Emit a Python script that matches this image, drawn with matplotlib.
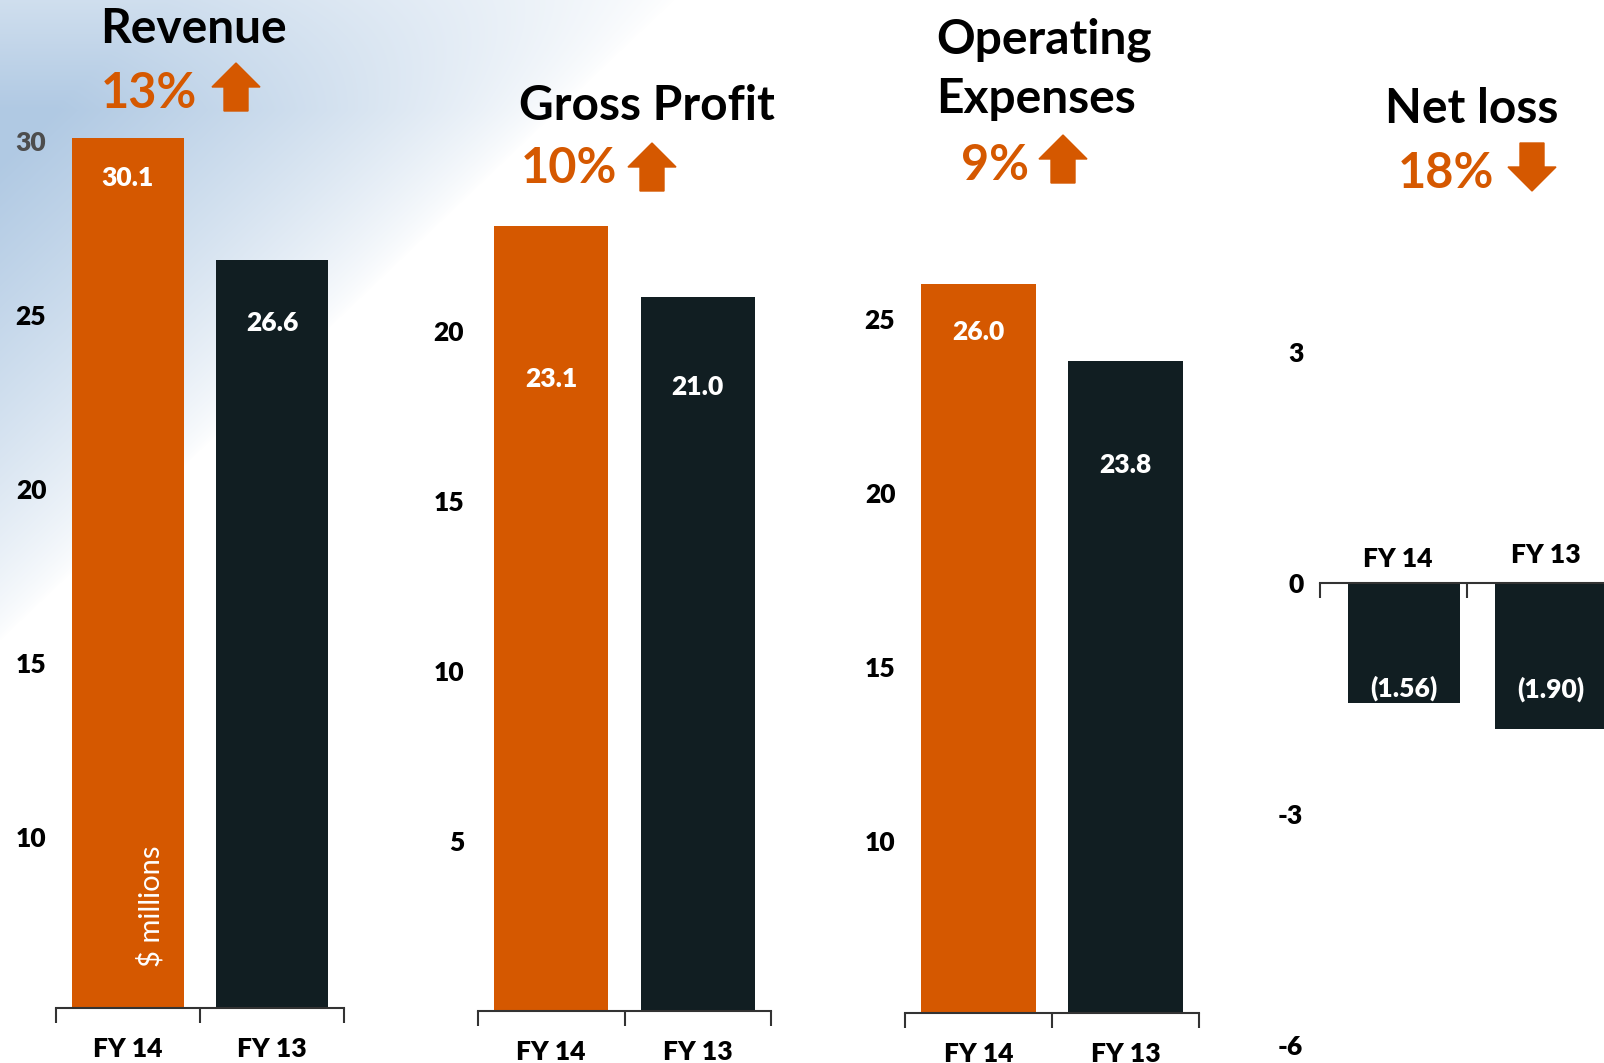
import numpy as np
import matplotlib
matplotlib.use('Agg')
import matplotlib.pyplot as plt
from matplotlib.patches import Polygon

plt.rcParams['font.family'] = ['Lato', 'DejaVu Sans']

# data
years = ['FY 14', 'FY 13']
revenue = [30.1, 26.6]
gross_profit = [23.1, 21.0]
op_expenses = [26.0, 23.8]
net_loss = [-1.56, -1.90]

rev_ticks = [10, 15, 20, 25, 30]
gp_ticks = [5, 10, 15, 20]
opex_ticks = [10, 15, 20, 25]
nl_ticks = [-6, -3, 0, 3]

titles = [['Revenue'], ['Gross Profit'], ['Operating', 'Expenses'], ['Net loss']]
changes = ['13%', '10%', '9%', '18%']
directions = ['up', 'up', 'up', 'down']

ORANGE = '#d55800'
DARK = '#111e22'
AXCOL = '#333333'
LBL_W = 'heavy'

W, H = 1604, 1063
fig = plt.figure(figsize=(W / 100, H / 100), dpi=100)


def fx(x):
    return x / W


def fy(y):
    return 1 - y / H


# soft sky background in the upper left
bg = fig.add_axes([0, 0, 1, 1], zorder=-5)
yy, xx = np.mgrid[0:H, 0:W]
d = xx * 0.95 + yy
wgt = np.clip((640 - d) / 480, 0, 1) ** 0.75
wgt *= 1 - 0.4 * np.clip((110 - yy) / 110, 0, 1)
sky = np.array([176, 201, 227]) / 255
white = np.array([1.0, 1.0, 1.0])
img = white[None, None, :] * (1 - wgt[..., None]) + sky[None, None, :] * wgt[..., None]
bg.imshow(img, aspect='auto', extent=[0, 1, 0, 1])
bg.axis('off')

# panel layout in pixels: left, right, baseline, top, value at baseline, px per unit
panels = [
    dict(vals=revenue, ticks=rev_ticks, left=56, right=344, base=1008, top=60, v0=5.1, ppu=34.8,
         pad=7, offs=[-40, -63], cols=[ORANGE, DARK]),
    dict(vals=gross_profit, ticks=gp_ticks, left=478, right=771, base=1011, top=60, v0=0, ppu=34,
         pad=10, offs=[-153, -90], cols=[ORANGE, DARK]),
    dict(vals=op_expenses, ticks=opex_ticks, left=905, right=1199, base=1013, top=60, v0=5.05, ppu=34.8,
         pad=7, offs=[-48, -105], cols=[ORANGE, DARK]),
]

for p in panels:
    ax = fig.add_axes([fx(p['left']), fy(p['base']), fx(p['right'] - p['left']), (p['base'] - p['top']) / H])
    ax.patch.set_alpha(0)
    ax.set_xlim(-0.5, 1.5)
    ax.set_ylim(p['v0'], p['v0'] + (p['base'] - p['top']) / p['ppu'])
    x = np.arange(len(years))
    ax.bar(x, p['vals'], width=0.78, color=p['cols'], zorder=2)
    for xi, v, off in zip(x, p['vals'], p['offs']):
        ax.annotate(f'{v:.1f}', (xi, v), xytext=(0, off), textcoords='offset pixels',
                    ha='center', va='center', color='white', fontsize=19, fontweight=LBL_W)
    for s in ['left', 'right', 'top']:
        ax.spines[s].set_visible(False)
    ax.spines['bottom'].set_color(AXCOL)
    ax.spines['bottom'].set_linewidth(1.5)
    ax.set_xticks([-0.5, 0.5, 1.5])
    ax.set_xticklabels([])
    ax.tick_params(axis='x', which='major', length=11, width=1.5, color=AXCOL, direction='out')
    ax.set_xticks(x, minor=True)
    ax.set_xticklabels(years, minor=True, fontsize=19, fontweight=LBL_W)
    ax.tick_params(axis='x', which='minor', length=0, pad=21)
    ax.set_yticks(p['ticks'])
    ax.set_yticklabels([str(t) for t in p['ticks']], fontsize=19, fontweight=LBL_W)
    ax.tick_params(axis='y', length=0, pad=p['pad'])
    if p['vals'] is revenue:
        ax.get_yticklabels()[-1].set_color('#4d4d4d')

# net loss panel
nl_left, nl_zero, nl_top, nl_bot, nl_ppu = 1320, 583, 330, 1063, 77
unit = 147.3
nl_bounds = [-0.57, 0.43]
ax = fig.add_axes([fx(nl_left), 0, 1 - fx(nl_left), (H - nl_top) / H])
ax.patch.set_alpha(0)
ax.set_xlim(nl_bounds[0], nl_bounds[0] + (W - nl_left) / unit)
ax.set_ylim(-(nl_bot - nl_zero) / nl_ppu, (nl_zero - nl_top) / nl_ppu)
x = np.arange(len(years))
ax.bar(x, net_loss, width=0.76, color=DARK, zorder=2)
for xi, v, off in zip(x, net_loss, [15, 40]):
    ax.annotate(f'({abs(v):.2f})', (xi, v), xytext=(0, off), textcoords='offset pixels',
                ha='center', va='center', color='white', fontsize=19, fontweight=LBL_W)
for xi, lab, off in zip(x, years, [16, 20]):
    ax.annotate(lab, (xi - 0.04, 0), xytext=(0, off), textcoords='offset pixels',
                ha='center', va='baseline', color='black', fontsize=19, fontweight=LBL_W)
for s in ['left', 'right', 'top']:
    ax.spines[s].set_visible(False)
ax.spines['bottom'].set_position(('data', 0))
ax.spines['bottom'].set_color(AXCOL)
ax.spines['bottom'].set_linewidth(1.5)
ax.set_xticks(nl_bounds)
ax.set_xticklabels([])
ax.tick_params(axis='x', length=11, width=1.5, color=AXCOL, direction='out')
ax.set_yticks(nl_ticks)
ax.set_yticklabels([str(t) for t in nl_ticks], fontsize=19, fontweight=LBL_W)
ax.tick_params(axis='y', length=0, pad=12)

# "$ millions" inside the first orange bar
fig.text(fx(151), fy(906), '$ millions', rotation=90, ha='center', va='center',
         color='white', fontsize=21)

# titles and percentage changes (left px, baseline px)
title_pos = [[(100, 43)], [(519, 120)], [(936, 53), (936, 113)], [(1385, 123)]]
change_pos = [(101, 108), (521, 183), (961, 180), (1398, 188)]
arrow_pos = [(212, 63), (628, 143), (1039, 135), (1508, 143)]

for lines, tpos, ch, cpos, dirn, apos in zip(titles, title_pos, changes, change_pos, directions, arrow_pos):
    for line, (tx, ty) in zip(lines, tpos):
        fig.text(fx(tx), fy(ty), line, ha='left', va='baseline', fontsize=34.5,
                 fontweight='bold', color='black')
    fig.text(fx(cpos[0]), fy(cpos[1]), ch, ha='left', va='baseline', fontsize=35,
             fontweight='bold', color=ORANGE)
    L, T = apos
    if dirn == 'up':
        pts = [(L, T + 24), (L + 24, T), (L + 48, T + 24), (L + 36, T + 24),
               (L + 36, T + 48), (L + 12, T + 48), (L + 12, T + 24)]
    else:
        pts = [(L + 12, T), (L + 36, T), (L + 36, T + 24), (L + 48, T + 24),
               (L + 24, T + 48), (L, T + 24), (L + 12, T + 24)]
    fig.add_artist(Polygon([(fx(a), fy(b)) for a, b in pts], closed=True,
                           transform=fig.transFigure, color=ORANGE, zorder=5))

fig.savefig('out.png', dpi=100)
